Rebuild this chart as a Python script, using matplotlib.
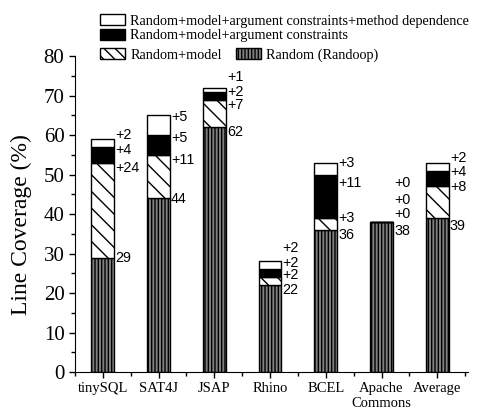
import numpy as np
import matplotlib
matplotlib.use('Agg')
import matplotlib.pyplot as plt
from matplotlib.patches import Patch

# data
projects = ['tinySQL', 'SAT4J', 'JSAP', 'Rhino', 'BCEL', 'Apache\nCommons', 'Average']
base = [29, 44, 62, 22, 36, 38, 39]          # Random (Randoop)
add_model = [24, 11, 7, 2, 3, 0, 8]          # +model
add_args = [4, 5, 2, 2, 11, 0, 4]            # +argument constraints
add_dep = [2, 5, 1, 2, 3, 0, 2]              # +method dependence

# y positions of the value labels (base, +model, +args, +dep), placed by hand
label_y = [
    [28.9, 51.6, 56.2, 60.0],
    [43.8, 53.7, 59.2, 64.6],
    [60.8, 67.6, 70.9, 74.7],
    [20.7, 24.5, 27.6, 31.4],
    [34.7, 39.0, 47.8, 52.9],
    [35.7, 40.0, 43.5, 47.8],
    [37.0, 46.8, 50.6, 54.2],
]

serif = 'Liberation Serif'
plt.rcParams['hatch.linewidth'] = 1.0

fig = plt.figure(figsize=(4.8, 4.15), dpi=100)
ax = fig.add_axes([0.156, 0.1036, 0.819, 0.761])

x = np.arange(len(projects))
w = 0.41
b = np.array(base, dtype=float)
m = np.array(add_model, dtype=float)
a = np.array(add_args, dtype=float)
d = np.array(add_dep, dtype=float)

ax.bar(x, b, w, color='#808080', edgecolor='black', hatch='|||||', linewidth=1)
ax.bar(x, m, w, bottom=b, color='white', edgecolor='black', hatch='\\\\', linewidth=1)
ax.bar(x, a, w, bottom=b + m, color='black', edgecolor='black', linewidth=1)
ax.bar(x, d, w, bottom=b + m + a, color='white', edgecolor='black', linewidth=1)

for i in range(len(projects)):
    texts = ['%d' % base[i], '+%d' % add_model[i], '+%d' % add_args[i], '+%d' % add_dep[i]]
    for t, yy in zip(texts, label_y[i]):
        ax.text(x[i] + w / 2 + 0.02, yy, t, ha='left', va='center',
                fontsize=10.3, family='Liberation Sans')

ax.set_xlim(-0.5, 6.55)
ax.set_ylim(0, 80)
ax.spines['top'].set_visible(False)
ax.spines['right'].set_visible(False)
ax.set_xticks(x)
ax.set_xticks(np.arange(-0.5, 6.6, 1), minor=True)
ax.set_xticklabels(projects, family=serif, fontsize=10.5)
ax.set_yticks(np.arange(0, 81, 10))
ax.set_yticks(np.arange(0, 81, 5), minor=True)
ax.set_yticklabels([str(v) for v in range(0, 81, 10)], family=serif, fontsize=15)
ax.tick_params(which='major', direction='out', length=4, width=1)
ax.tick_params(which='minor', direction='out', length=3, width=1)
ax.set_ylabel('Line Coverage (%)', family=serif, fontsize=17)
ax.yaxis.set_label_coords(-0.11, 0.468)

h_dep = Patch(facecolor='white', edgecolor='black', label='Random+model+argument constraints+method dependence')
h_args = Patch(facecolor='black', edgecolor='black', label='Random+model+argument constraints')
h_model = Patch(facecolor='white', edgecolor='black', hatch='\\\\\\', label='Random+model')
h_base = Patch(facecolor='#808080', edgecolor='black', hatch='|||||', label='Random (Randoop)')

legkw = dict(frameon=False, borderpad=0, prop={'family': serif, 'size': 10.3},
             handlelength=1.75, handleheight=0.8, handletextpad=0.35,
             labelspacing=0.1, loc='upper left')
leg1 = fig.legend(handles=[h_dep, h_args], bbox_to_anchor=(93 / 480, 1 - 7 / 415), **legkw)
leg2 = fig.legend(handles=[h_model, h_base], ncol=2, columnspacing=1.0,
                  bbox_to_anchor=(93 / 480, 1 - 41 / 415), **legkw)

fig.savefig('out.png', dpi=100)
